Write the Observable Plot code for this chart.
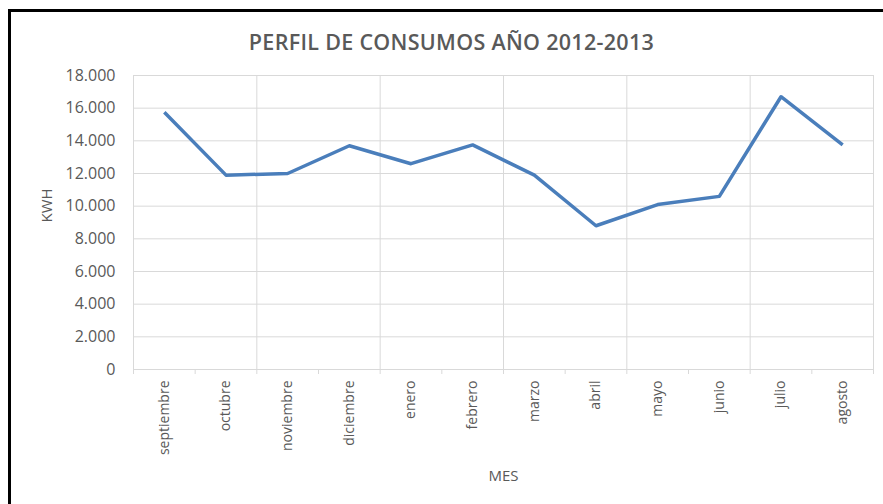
<!DOCTYPE html>
<html>
<head>
<meta charset="utf-8">
<script src="https://cdn.jsdelivr.net/npm/d3@7"></script>
<script src="https://cdn.jsdelivr.net/npm/@observablehq/plot@0.6"></script>
<style>
  html, body { margin: 0; padding: 0; background: #fff; }
  #wrap { position: relative; width: 883px; height: 504px; overflow: hidden; font-family: "Open Sans", sans-serif; }
  #frame { position: absolute; left: 8px; top: 9px; width: 900px; height: 520px; border-top: 3px solid #000; border-left: 3px solid #000; pointer-events: none; }
  #title { height: 60px; line-height: 60px; padding-top: 12px; box-sizing: border-box; text-align: center; font-weight: 600; font-size: 21.5px; color: #595959; letter-spacing: 0.3px; padding-left: 20px; }
</style>
</head>
<body>
<div id="wrap">
  <div id="frame"></div>
  <div id="title">PERFIL DE CONSUMOS AÑO 2012-2013</div>
  <div id="chart"></div>
</div>
<script>
const months = ["septiembre","octubre","noviembre","diciembre","enero","febrero","marzo","abril","mayo","junio","julio","agosto"];
const kwh = [15750, 11900, 12000, 13700, 12600, 13750, 11900, 8800, 10100, 10600, 16700, 13750];
const yTicks = [0, 2000, 4000, 6000, 8000, 10000, 12000, 14000, 16000, 18000];

const data = months.map((m, i) => ({month: m, idx: i + 0.5, value: kwh[i]}));
const locale = d3.formatLocale({decimal: ",", thousands: ".", grouping: [3], currency: ["", ""]});
const fmt = locale.format(",d");
const boundaries = d3.range(0, months.length + 1);
const vGrid = boundaries.filter(b => b > 0 && b % 2 === 0);
const centers = months.map((m, i) => i + 0.5);

const chart = Plot.plot({
  width: 883,
  height: 444,
  marginTop: 15,
  marginBottom: 135,
  marginLeft: 133,
  marginRight: 10,
  style: {fontFamily: "Open Sans, sans-serif", color: "#595959", background: "transparent", overflow: "visible"},
  x: {type: "linear", domain: [0, months.length]},
  y: {domain: [0, 18000]},
  marks: [
    Plot.gridY(yTicks, {stroke: "#d9d9d9", strokeOpacity: 1, strokeWidth: 1}),
    Plot.gridX(vGrid, {stroke: "#d9d9d9", strokeOpacity: 1, strokeWidth: 1}),
    Plot.ruleX([0], {stroke: "#d9d9d9", strokeWidth: 1}),
    Plot.axisY({ticks: yTicks, tickFormat: fmt, tickSize: 0, tickPadding: 18, fontSize: 16, label: null, fill: "#595959"}),
    Plot.axisX({ticks: boundaries, tickFormat: () => "", tickSize: 5, stroke: "#d9d9d9", strokeOpacity: 1, label: null}),
    Plot.axisX({ticks: centers, tickFormat: d => months[Math.floor(d)], tickSize: 0, tickPadding: 11, tickRotate: -90, fontSize: 14, label: null, fill: "#595959"}),
    Plot.line(data, {x: "idx", y: "value", stroke: "#4a7ebb", strokeWidth: 3.5, strokeLinejoin: "round", strokeLinecap: "butt"}),
    Plot.text(["MES"], {frameAnchor: "bottom", dy: 111, fontSize: 15, fill: "#595959", text: d => d}),
    Plot.text(["KWH"], {frameAnchor: "left", dx: -86, rotate: -90, fontSize: 15, fill: "#595959", text: d => d})
  ]
});
document.getElementById("chart").appendChild(chart);
</script>
</body>
</html>
